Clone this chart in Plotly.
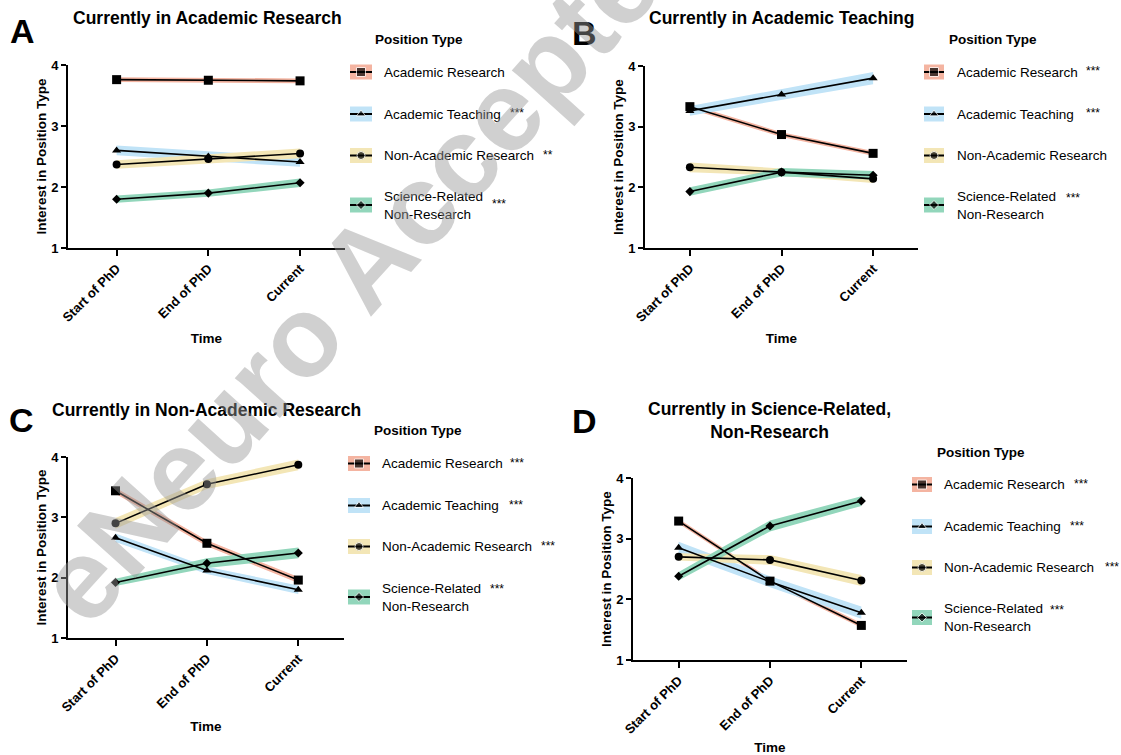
import plotly.graph_objects as go

# ---------------- data ----------------
times = ["Start of PhD", "End of PhD", "Current"]
position_types = ["Academic Research", "Academic Teaching",
                  "Non-Academic Research", "Science-Related<br>Non-Research"]

# Panel A: Currently in Academic Research
a_acad_research = [3.76, 3.75, 3.74]
a_acad_teaching = [2.60, 2.50, 2.41]
a_nonacad_research = [2.37, 2.46, 2.55]
a_sci_nonresearch = [1.80, 1.90, 2.07]
a_se_acad_research = [0.04, 0.04, 0.04]
a_se_acad_teaching = [0.08, 0.08, 0.08]
a_se_nonacad_research = [0.07, 0.07, 0.08]
a_se_sci_nonresearch = [0.06, 0.06, 0.07]
a_stars = ["", "***", "**", "***"]

# Panel B: Currently in Academic Teaching
b_acad_research = [3.33, 2.87, 2.56]
b_acad_teaching = [3.26, 3.53, 3.80]
b_nonacad_research = [2.33, 2.25, 2.14]
b_sci_nonresearch = [1.93, 2.25, 2.20]
b_se_acad_research = [0.04, 0.04, 0.04]
b_se_acad_teaching = [0.08, 0.09, 0.10]
b_se_nonacad_research = [0.08, 0.06, 0.07]
b_se_sci_nonresearch = [0.07, 0.07, 0.07]
b_stars = ["***", "***", "", "***"]

# Panel C: Currently in Non-Academic Research
c_acad_research = [3.44, 2.57, 1.96]
c_acad_teaching = [2.66, 2.12, 1.80]
c_nonacad_research = [2.90, 3.55, 3.87]
c_sci_nonresearch = [1.92, 2.24, 2.41]
c_se_acad_research = [0.05, 0.05, 0.05]
c_se_acad_teaching = [0.07, 0.06, 0.07]
c_se_nonacad_research = [0.09, 0.08, 0.09]
c_se_sci_nonresearch = [0.06, 0.08, 0.09]
c_stars = ["***", "***", "***", "***"]

# Panel D: Currently in Science-Related, Non-Research
d_acad_research = [3.29, 2.30, 1.57]
d_acad_teaching = [2.85, 2.29, 1.78]
d_nonacad_research = [2.70, 2.65, 2.31]
d_sci_nonresearch = [2.38, 3.21, 3.62]
d_se_acad_research = [0.04, 0.04, 0.04]
d_se_acad_teaching = [0.10, 0.09, 0.10]
d_se_nonacad_research = [0.06, 0.08, 0.09]
d_se_sci_nonresearch = [0.07, 0.09, 0.08]
d_stars = ["***", "***", "***", "***"]

panel_titles = ["Currently in Academic Research", "Currently in Academic Teaching",
                "Currently in Non-Academic Research",
                "Currently in Science-Related,<br>Non-Research"]
panel_letters = ["A", "B", "C", "D"]
watermark_text = "eNeuro Accepted"

# ---------------- styles ----------------
W, H = 1121, 755
FONT = "Liberation Sans, Arial, sans-serif"
band_colors = ["#f4b4a1", "#c0e3f7", "#f3e6b6", "#92d6bb"]
symbols = ["square", "triangle-up", "circle", "diamond"]
sizes = [9, 8, 8, 7]

panels = [
    dict(values=[a_acad_research, a_acad_teaching, a_nonacad_research, a_sci_nonresearch],
         se=[a_se_acad_research, a_se_acad_teaching, a_se_nonacad_research, a_se_sci_nonresearch],
         stars=a_stars, px=(68, 345), py=(65, 248), xr=(-0.53, 2.49),
         title=(207, 18), letter=(22, 31), time_standoff=10,
         leg=dict(sw=(350, 372), tx=381.5, title=(373, 39),
                  rows=[72, 114, 155.5, 205], star_x=[None, 508, 541, 490],
                  star_y=[72, 113, 154.5, 204])),
    dict(values=[b_acad_research, b_acad_teaching, b_nonacad_research, b_sci_nonresearch],
         se=[b_se_acad_research, b_se_acad_teaching, b_se_nonacad_research, b_se_sci_nonresearch],
         stars=b_stars, px=(645, 918), py=(66, 248), xr=(-0.49, 2.49),
         title=(781, 18), letter=(584, 33), time_standoff=10,
         leg=dict(sw=(924, 944), tx=955, title=(946.5, 39),
                  rows=[72, 114, 155.5, 205], star_x=[1084, 1084, None, 1064],
                  star_y=[71, 113, 154.5, 198])),
    dict(values=[c_acad_research, c_acad_teaching, c_nonacad_research, c_sci_nonresearch],
         se=[c_se_acad_research, c_se_acad_teaching, c_se_nonacad_research, c_se_sci_nonresearch],
         stars=c_stars, px=(68, 344), py=(457, 638), xr=(-0.52, 2.5),
         title=(206, 410), letter=(21, 420), time_standoff=8,
         leg=dict(sw=(348, 370), tx=380, title=(371.5, 430.5),
                  rows=[463.5, 505.5, 546.5, 597], star_x=[508, 507, 539, 488],
                  star_y=[462.5, 504.5, 545.5, 589])),
    dict(values=[d_acad_research, d_acad_teaching, d_nonacad_research, d_sci_nonresearch],
         se=[d_se_acad_research, d_se_acad_teaching, d_se_nonacad_research, d_se_sci_nonresearch],
         stars=d_stars, px=(633, 907), py=(478, 660), xr=(-0.5, 2.5),
         title=(769, 420), letter=(584, 421), time_standoff=8,
         leg=dict(sw=(912, 932), tx=942, title=(935, 452.5),
                  rows=[484.5, 526.5, 567.5, 617.5], star_x=[1072, 1068, 1103, 1048],
                  star_y=[483.5, 525.5, 566.5, 610])),
]

fig = go.Figure()
layout = dict(width=W, height=H,
              margin=dict(l=0, r=0, t=0, b=0, pad=0, autoexpand=False),
              paper_bgcolor="white", plot_bgcolor="rgba(0,0,0,0)",
              showlegend=False, font=dict(family=FONT, color="black"))
annotations = []
shapes = []

# overlay pixel axes for decorations
layout["xaxis5"] = dict(domain=[0, 1], range=[0, W], visible=False, fixedrange=True,
                        anchor="y5", automargin=False)
layout["yaxis5"] = dict(domain=[0, 1], range=[H, 0], visible=False, fixedrange=True,
                        anchor="x5", automargin=False)

for i, p in enumerate(panels):
    n = i + 1
    xa = "x" if n == 1 else f"x{n}"
    ya = "y" if n == 1 else f"y{n}"
    xkey = "xaxis" if n == 1 else f"xaxis{n}"
    ykey = "yaxis" if n == 1 else f"yaxis{n}"
    layout[xkey] = dict(
        domain=[p["px"][0] / W, p["px"][1] / W], anchor=ya, type="category",
        categoryorder="array", categoryarray=times, range=list(p["xr"]),
        showline=True, linewidth=2, linecolor="black", ticks="outside",
        ticklen=6, tickwidth=2, tickcolor="black", tickangle=-45, automargin=False,
        tickfont=dict(family=FONT, size=13, color="black", weight="bold"),
        showgrid=False, zeroline=False, fixedrange=True,
        title=dict(text="<b>Time</b>", font=dict(family=FONT, size=13.5),
                   standoff=p["time_standoff"]))
    layout[ykey] = dict(
        domain=[1 - p["py"][1] / H, 1 - p["py"][0] / H], anchor=xa, range=[1, 4],
        tickvals=[1, 2, 3, 4], showline=True, linewidth=2, linecolor="black",
        ticks="outside", ticklen=5, tickwidth=2, tickcolor="black", automargin=False,
        tickfont=dict(family=FONT, size=13, color="black", weight="bold"),
        showgrid=False, zeroline=False, fixedrange=True,
        title=dict(text="<b>Interest in Position Type</b>", font=dict(family=FONT, size=13.5),
                   standoff=1))

    # bands
    for s in range(4):
        vals = p["values"][s]
        se = p["se"][s]
        upper = [v + e for v, e in zip(vals, se)]
        lower = [v - e for v, e in zip(vals, se)]
        fig.add_trace(go.Scatter(
            x=times + times[::-1], y=upper + lower[::-1], xaxis=xa, yaxis=ya,
            fill="toself", fillcolor=band_colors[s], mode="lines",
            line=dict(width=0, color=band_colors[s]), hoverinfo="skip"))
    # lines + markers
    for s in range(4):
        fig.add_trace(go.Scatter(
            x=times, y=p["values"][s], xaxis=xa, yaxis=ya, mode="lines+markers",
            line=dict(color="black", width=1.6),
            marker=dict(symbol=symbols[s], size=sizes[s], color="black"),
            name=position_types[s].replace("<br>", " ")))

    # titles and letters
    annotations.append(dict(x=p["title"][0], y=p["title"][1], xref="x5", yref="y5",
                            text=f"<b>{panel_titles[i]}</b>", showarrow=False,
                            font=dict(family=FONT, size=17.5, color="black"),
                            xanchor="center", yanchor="middle"))
    annotations.append(dict(x=p["letter"][0], y=p["letter"][1], xref="x5", yref="y5",
                            text=f"<b>{panel_letters[i]}</b>", showarrow=False,
                            font=dict(family=FONT, size=34, color="black"),
                            xanchor="center", yanchor="middle"))

    # legend
    lg = p["leg"]
    annotations.append(dict(x=lg["title"][0], y=lg["title"][1], xref="x5", yref="y5",
                            text="<b>Position Type</b>", showarrow=False,
                            font=dict(family=FONT, size=13.5, color="black"),
                            xanchor="left", yanchor="middle"))
    for s in range(4):
        cy = lg["rows"][s]
        x0, x1 = lg["sw"]
        shapes.append(dict(type="rect", xref="x5", yref="y5", x0=x0, x1=x1,
                           y0=cy - 7.5, y1=cy + 7.5, fillcolor=band_colors[s],
                           line=dict(width=0), layer="below"))
        fig.add_trace(go.Scatter(
            x=[x0, (x0 + x1) / 2, x1], y=[cy, cy, cy], xaxis="x5", yaxis="y5",
            mode="lines+markers", line=dict(color="black", width=2),
            marker=dict(symbol=symbols[s], size=[0, sizes[s], 0], color="black"),
            hoverinfo="skip"))
        annotations.append(dict(x=lg["tx"], y=cy, xref="x5", yref="y5",
                                text=position_types[s], showarrow=False, align="left",
                                font=dict(family=FONT, size=13.5, color="black"),
                                xanchor="left", yanchor="middle"))
        if p["stars"][s]:
            annotations.append(dict(x=lg["star_x"][s], y=lg["star_y"][s], xref="x5", yref="y5",
                                    text=p["stars"][s], showarrow=False,
                                    font=dict(family=FONT, size=12, color="black"),
                                    xanchor="left", yanchor="middle"))

# watermark
annotations.append(dict(x=370, y=258, xref="x5", yref="y5", text=f"<b>{watermark_text}</b>",
                        showarrow=False, textangle=-48,
                        font=dict(family=FONT, size=114, color="rgba(150,150,150,0.45)"),
                        xanchor="center", yanchor="middle"))

layout["annotations"] = annotations
layout["shapes"] = shapes
fig.update_layout(**layout)
fig.write_html("out.html", config={"displayModeBar": False, "staticPlot": True},
               post_script="document.body.style.margin='0px';"
                           "document.body.style.overflow='hidden';")
